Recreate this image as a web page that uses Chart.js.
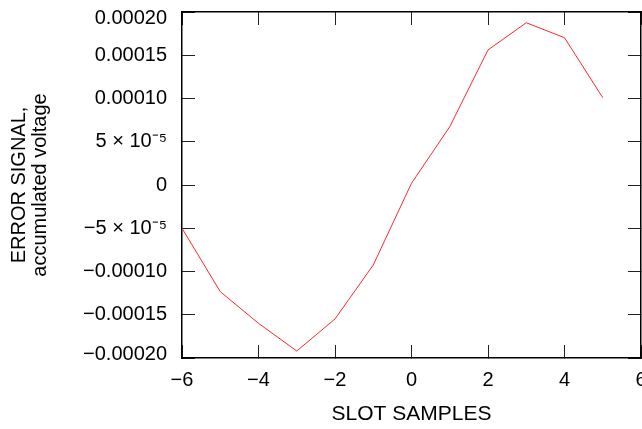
<!DOCTYPE html>
<html>
<head>
<meta charset="utf-8">
<script src="https://cdn.jsdelivr.net/npm/chart.js@4/dist/chart.umd.min.js"></script>
<style>
html,body{margin:0;padding:0;background:#fff;}
#c{display:block;}
</style>
</head>
<body>
<canvas id="c" width="642" height="429"></canvas>
<script>
const slotSamples = [-6, -5, -4, -3, -2, -1, 0, 1, 2, 3, 4, 5];
const errorSignal = [-5.0e-5, -1.233e-4, -1.599e-4, -1.919e-4, -1.549e-4, -9.25e-5, 0.2e-5, 6.74e-5, 1.561e-4, 1.876e-4, 1.703e-4, 1.009e-4];
const xTickLabels = ['\u22126', '\u22124', '\u22122', '0', '2', '4', '6'];
const yTickLabels = ['\u22120.00020', '\u22120.00015', '\u22120.00010', '\u22125 \u00d7 10\u207b\u2075', '0', '5 \u00d7 10\u207b\u2075', '0.00010', '0.00015', '0.00020'];
const xTitle = 'SLOT SAMPLES';
const yTitle = ['ERROR SIGNAL,', 'accumulated voltage'];

const FONT = "'Liberation Sans', Arial, sans-serif";
const points = slotSamples.map((x, i) => ({x: x, y: errorSignal[i]}));

function fixSize(prop, val) {
  return function (scale) {
    scale[prop] = val;
    scale.paddingLeft = 0; scale.paddingRight = 0;
    scale.paddingTop = 0; scale.paddingBottom = 0;
  };
}
const gridCommon = {drawOnChartArea: false, drawTicks: true, tickLength: -13, color: '#222', lineWidth: 1};
const borderCommon = {display: true, color: '#000', width: 1.5};
const lastY = yTickLabels.length - 1;

new Chart(document.getElementById('c'), {
  type: 'line',
  data: {
    datasets: [{
      data: points,
      borderColor: 'rgb(255,40,40)',
      borderWidth: 1,
      pointRadius: 0,
      tension: 0,
      fill: false
    }]
  },
  options: {
    responsive: false,
    animation: false,
    layout: {padding: 0},
    plugins: {legend: {display: false}, tooltip: {enabled: false}},
    scales: {
      x: {
        type: 'linear', position: 'bottom', min: -6, max: 6,
        afterFit: fixSize('height', 71),
        grid: gridCommon, border: borderCommon,
        ticks: {stepSize: 2, padding: 23, color: '#000', font: {family: FONT, size: 20},
          maxRotation: 0, autoSkip: false,
          callback: (v, i) => xTickLabels[i]},
        title: {display: true, text: xTitle, color: '#000', font: {family: FONT, size: 21}, padding: {top: 0, bottom: 2}}
      },
      x2: {
        type: 'linear', position: 'top', min: -6, max: 6,
        afterFit: fixSize('height', 12),
        grid: gridCommon, border: borderCommon,
        ticks: {stepSize: 2, display: false}
      },
      y: {
        type: 'linear', position: 'left', min: -0.0002, max: 0.0002,
        afterFit: fixSize('width', 182),
        grid: gridCommon, border: borderCommon,
        ticks: {stepSize: 0.00005, padding: 28, color: '#000', autoSkip: false,
          font: (ctx) => {
            if (ctx.index === lastY) return {family: FONT, size: 20, lineHeight: 0.6};
            if (ctx.index === 0) return {family: FONT, size: 20, lineHeight: 0.4};
            return {family: FONT, size: 20};
          },
          callback: (v, i) => i === lastY ? ['', yTickLabels[i]] : (i === 0 ? [yTickLabels[i], ''] : yTickLabels[i])},
        title: {display: true, text: yTitle, color: '#000', font: {family: FONT, size: 20, lineHeight: 1.05}, padding: {top: 9, bottom: 0}}
      },
      y2: {
        type: 'linear', position: 'right', min: -0.0002, max: 0.0002,
        afterFit: fixSize('width', 1),
        grid: gridCommon, border: borderCommon,
        ticks: {stepSize: 0.00005, display: false}
      }
    }
  }
});
</script>
</body>
</html>
